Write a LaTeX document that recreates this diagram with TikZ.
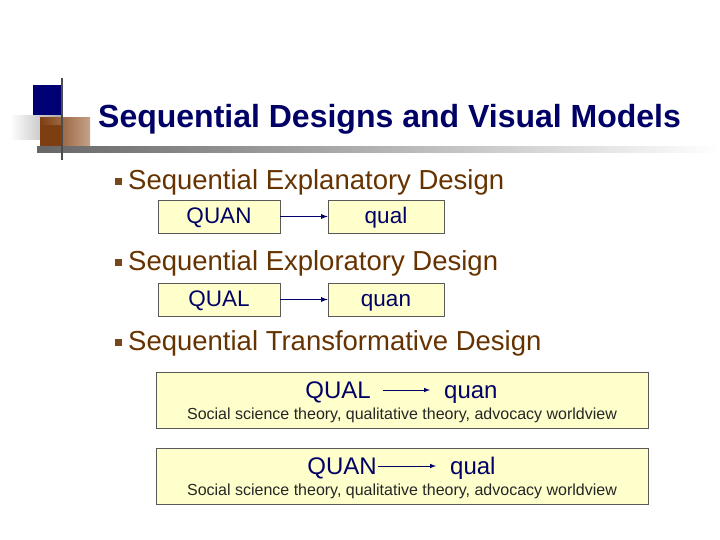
\documentclass[tikz,border=0pt]{standalone}
\usepackage{fontspec}
\setmainfont{Liberation Sans}
\definecolor{navy}{HTML}{000066}
\definecolor{brn}{HTML}{663300}
\definecolor{bx}{HTML}{FFFFCC}
\definecolor{sq}{HTML}{8B4513}
\begin{document}
\begin{tikzpicture}[x=1pt,y=-1pt,
 box/.style={draw=gray!70!black,fill=bx,line width=0.6pt,inner sep=0pt,text height=16pt,text depth=3pt},
 bul/.style={fill=brn!90,minimum size=7pt,inner sep=0pt},
 btxt/.style={anchor=base west,text=brn,font=\fontsize{27.5}{30}\selectfont,inner sep=0pt},
 arr/.style={-latex,navy,line width=1.3pt}]
\useasboundingbox (0,0) rectangle (720,540);
% decoration
\fill[navy!90!blue] (33,85) rectangle (62,118);
\shade[left color=white,right color=gray!70] (10,116) rectangle (62,140);
\shade[left color=sq!90!black,right color=sq!50!white] (40,118) rectangle (90,150);
\fill[sq!90!black] (40,125) rectangle (62,150);
\shade[left color=gray!80!black,right color=white] (37,147) rectangle (720,153);
\draw[black!70,line width=1.5pt] (62,78) -- (62,160);
\node[anchor=base west,text=navy,font=\bfseries\fontsize{32}{34}\selectfont,inner sep=0pt] (title) at (98,128) {Sequential Designs and Visual Models};
% bullets
\node[bul] (b1) at (118,182) {};
\node[btxt] (t1) at (128,190) {Sequential Explanatory Design};
\node[bul] (b2) at (118,262) {};
\node[btxt] (t2) at (128,270) {Sequential Exploratory Design};
\node[bul] (b3) at (118,342) {};
\node[btxt] (t3) at (128,350) {Sequential Transformative Design};
% row 1
\node[box,minimum width=122pt,minimum height=33pt,font=\fontsize{22.5}{24}\selectfont,text=navy] (a1) at (219,216.5) {QUAN};
\node[box,minimum width=116pt,minimum height=33pt,font=\fontsize{22.5}{24}\selectfont,text=navy] (a2) at (386,216.5) {qual};
\draw[arr] (a1) -- (a2);
\node[box,minimum width=122pt,minimum height=33pt,font=\fontsize{22.5}{24}\selectfont,text=navy] (c1) at (219,299.5) {QUAL};
\node[box,minimum width=116pt,minimum height=33pt,font=\fontsize{22.5}{24}\selectfont,text=navy] (c2) at (386,299.5) {quan};
\draw[arr] (c1) -- (c2);
% transformative boxes
\node[box,minimum width=492pt,minimum height=56pt,text height=0pt,text depth=0pt] (d) at (402,400) {};
\node[text=navy,font=\fontsize{24}{26}\selectfont,anchor=base east,inner sep=0pt] (d1) at (371,398) {QUAL};
\node[text=navy,font=\fontsize{24}{26}\selectfont,anchor=base west,inner sep=0pt] (d2) at (444,398) {quan};
\draw[-latex,navy,line width=1pt] ([xshift=12pt,yshift=8pt]d1.base east) -- ([xshift=-14pt,yshift=8pt]d2.base west);
\node[font=\fontsize{16}{18}\selectfont,text=black!85,anchor=base,inner sep=0pt] (d3) at (402,419) {Social science theory, qualitative theory, advocacy worldview};
\node[box,minimum width=492pt,minimum height=56pt,text height=0pt,text depth=0pt] (e) at (402,476) {};
\node[text=navy,font=\fontsize{24}{26}\selectfont,anchor=base east,inner sep=0pt] (e1) at (377,474) {QUAN};
\node[text=navy,font=\fontsize{24}{26}\selectfont,anchor=base west,inner sep=0pt] (e2) at (450,474) {qual};
\draw[-latex,navy,line width=1pt] ([xshift=1pt,yshift=8pt]e1.base east) -- ([xshift=-14pt,yshift=8pt]e2.base west);
\node[font=\fontsize{16}{18}\selectfont,text=black!85,anchor=base,inner sep=0pt] (e3) at (402,495) {Social science theory, qualitative theory, advocacy worldview};
\end{tikzpicture}
\end{document}
